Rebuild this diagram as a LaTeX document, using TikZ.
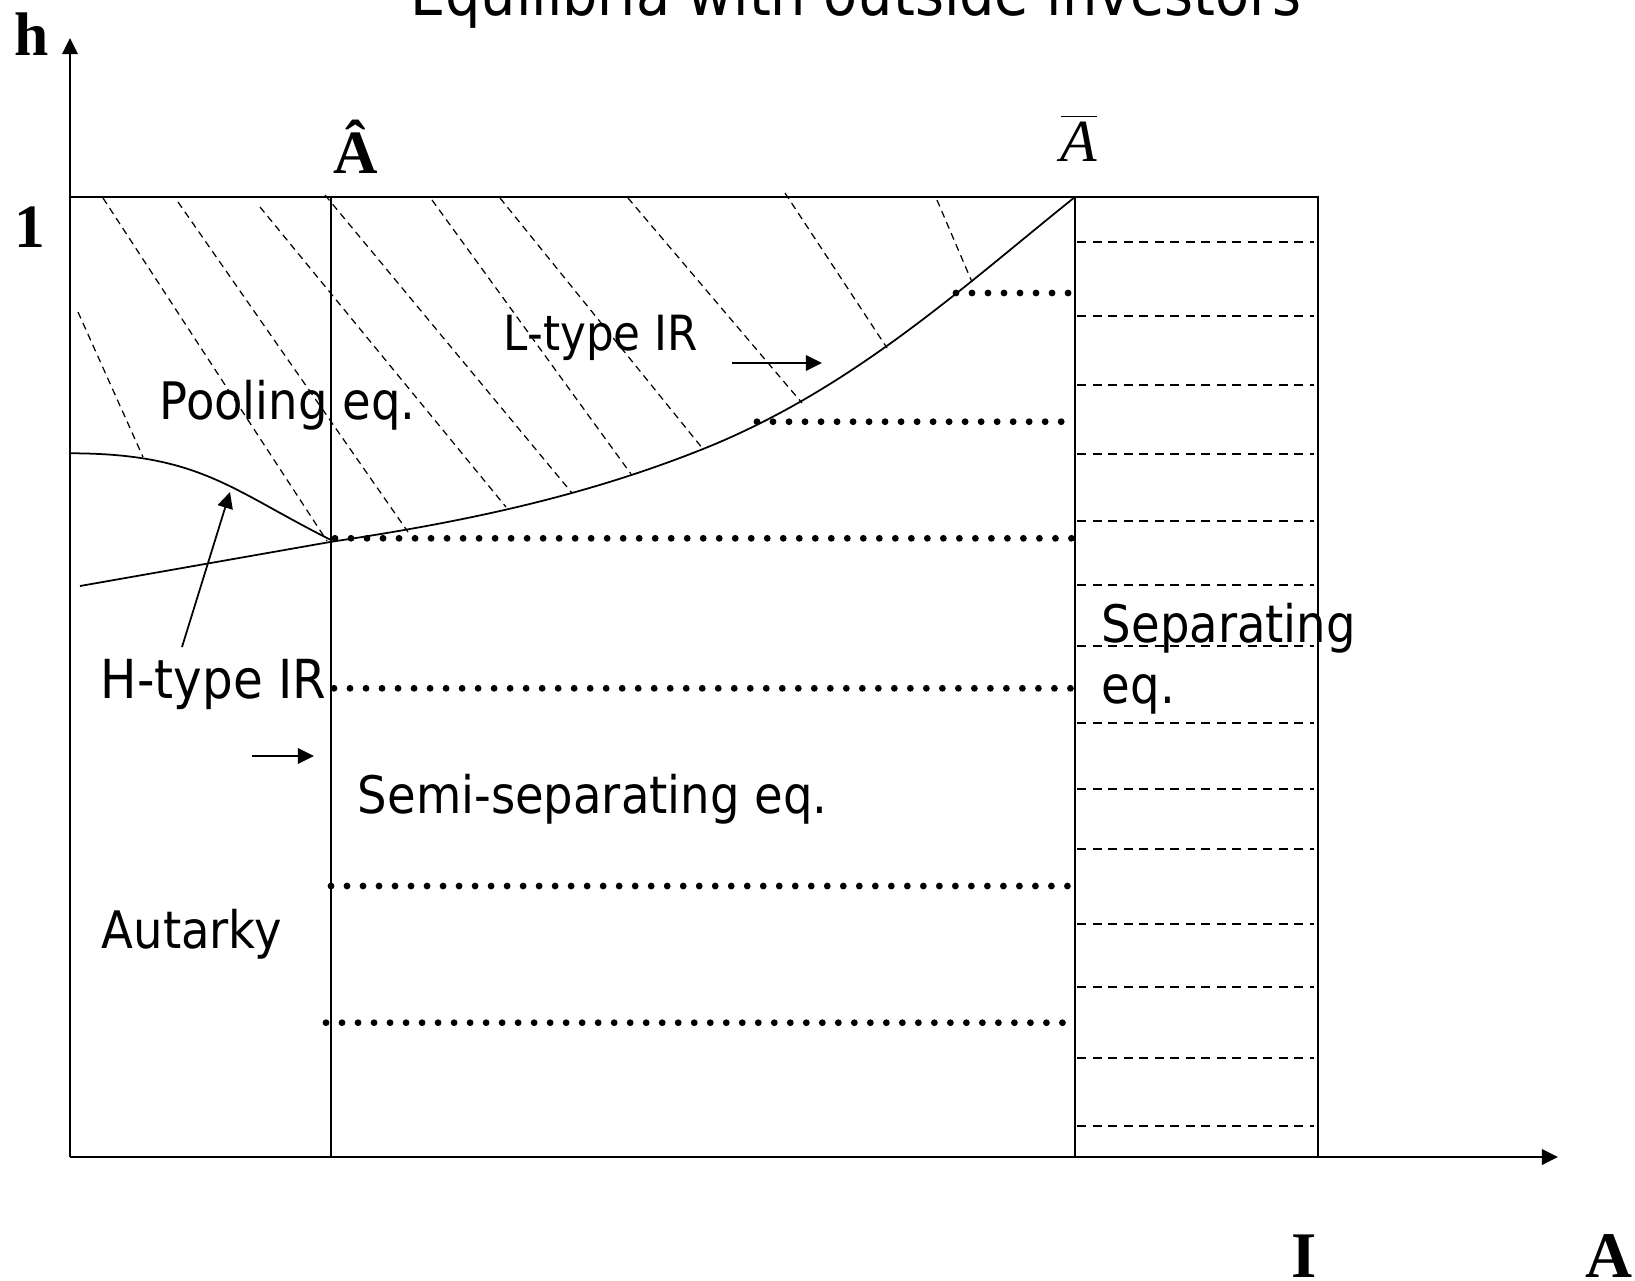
\documentclass[tikz,border=0pt]{standalone}
\usepackage{fontspec}
\setmainfont{DejaVu Sans Condensed}
\newfontfamily\timesfont{Liberation Serif}
\usetikzlibrary{arrows.meta}

\begin{document}
\begin{tikzpicture}[
    x=0.01cm, y=-0.01cm,
    >={Triangle[length=4.6pt,width=4.4pt]},
    every node/.style={inner sep=0pt},
    line width=0.5pt,
    region/.style={font=\fontsize{14.7}{17}\selectfont, anchor=base west},
    bigsym/.style={font=\timesfont\bfseries\fontsize{17.5}{20}\selectfont, anchor=base},
    hatch/.style={line width=0.35pt, dash pattern=on 0.07cm off 0.05cm},
    strip/.style={line width=0.4pt, dash pattern=on 0.09cm off 0.065cm},
    dotrow/.style={line width=0.068cm, line cap=round, dash pattern=on 0pt off 0.16cm}
]

\def\xO{70}    % origin
\def\yO{1157}
\def\yT{197}   % h = 1
\def\xH{331}   % A hat
\def\xB{1075}  % A bar
\def\xI{1318}  % I

\useasboundingbox (0,0) rectangle (1635,1281);

% Axes
\draw[->, line width=0.7pt] (\xO,\yO) -- (\xO,38);
\draw[->, line width=0.7pt] (\xO,\yO) -- (1558,\yO);

% Box and thresholds
\draw (\xO,\yT) -- (\xI,\yT) -- (\xI,\yO);
\draw[line width=0.8pt] (134,\yT) -- (182,\yT);
\draw (\xH,\yT) -- (\xH,\yO);
\draw (\xB,\yT) -- (\xB,\yO);

% H-type IR
\draw (70,453.3) .. controls (200,453.3) and (231,490) .. (331,540);
% L-type IR
\draw (80,586) -- (331.7,541.7)
      .. controls (455.7,523.1) and (579,498.6) .. (703,449)
      .. controls (853,389) and (965,285) .. (\xB,\yT);

% Pooling region
\foreach \xa/\ya/\xb/\yb in {78/312/143/457, 103/198/327/541, 178/202/408/532,
      260/207/506/507, 325/195/572/493, 432/200/631/474, 500/198/703/449,
      628/198/802/403, 785/193/887/348, 937/200/972/282}
    \draw[hatch] (\xa,\ya) -- (\xb,\yb);

% Semi-separating
\foreach \yy/\xa/\xb in {293/956/1072, 421.7/757/1064, 538.3/335/1073,
      688.3/334/1073, 886/331/1071, 1022.7/326/1066}
    \draw[dotrow] (\xa,\yy) -- (\xb,\yy);

% Separating
\foreach \yy in {242,316,385,454,521,585,646,723,789,849,924,987,1058,1126}
    \draw[strip] (1077,\yy) -- (1314,\yy);

% Labels
\node[anchor=base, font=\fontsize{17.6}{21}\selectfont] (title) at (856,15)
      {Equilibria with outside investors};
\node[bigsym] (h) at (31.5,55) {h};
\node[bigsym] (one) at (30,247) {1};
\node[bigsym] (ahat) at (356,173) {Â};
\node[bigsym, font=\timesfont\itshape\fontsize{17}{20}\selectfont] (abar) at (1079,161)
      {$\overline{\hbox{\timesfont\itshape A}}$};
\node[bigsym, font=\timesfont\bfseries\fontsize{18.5}{22}\selectfont] (inv) at (1304,1277) {I};
\node[bigsym, font=\timesfont\bfseries\fontsize{18.5}{22}\selectfont] (assets) at (1609,1277) {A};

\node[region] (pool) at (159,419) {Pooling eq.};
\node[region, font=\fontsize{13.8}{16}\selectfont] (ltype) at (503,350) {L-type IR};
\node[region, font=\fontsize{15.3}{18}\selectfont] (htype) at (100,698) {H-type IR};
\node[region] (semi) at (357,813) {Semi-separating eq.};
\node[region] (aut) at (101,948) {Autarky};
\node[region] (sep) at (1101,642) {Separating};
\node[region] (sepeq) at (1101,703) {eq.};

% Pointers
\coordinate (hfoot) at (182,647);
\coordinate (htip) at (230,492);
\draw[->] (hfoot) -- (htip);
\coordinate (lfoot) at (732,363);
\coordinate (ltip) at (822,363);
\draw[->] (lfoot) -- (ltip);
\coordinate (afoot) at (252,756);
\coordinate (atip) at (314,756);
\draw[->] (afoot) -- (atip);

\end{tikzpicture}
\end{document}
